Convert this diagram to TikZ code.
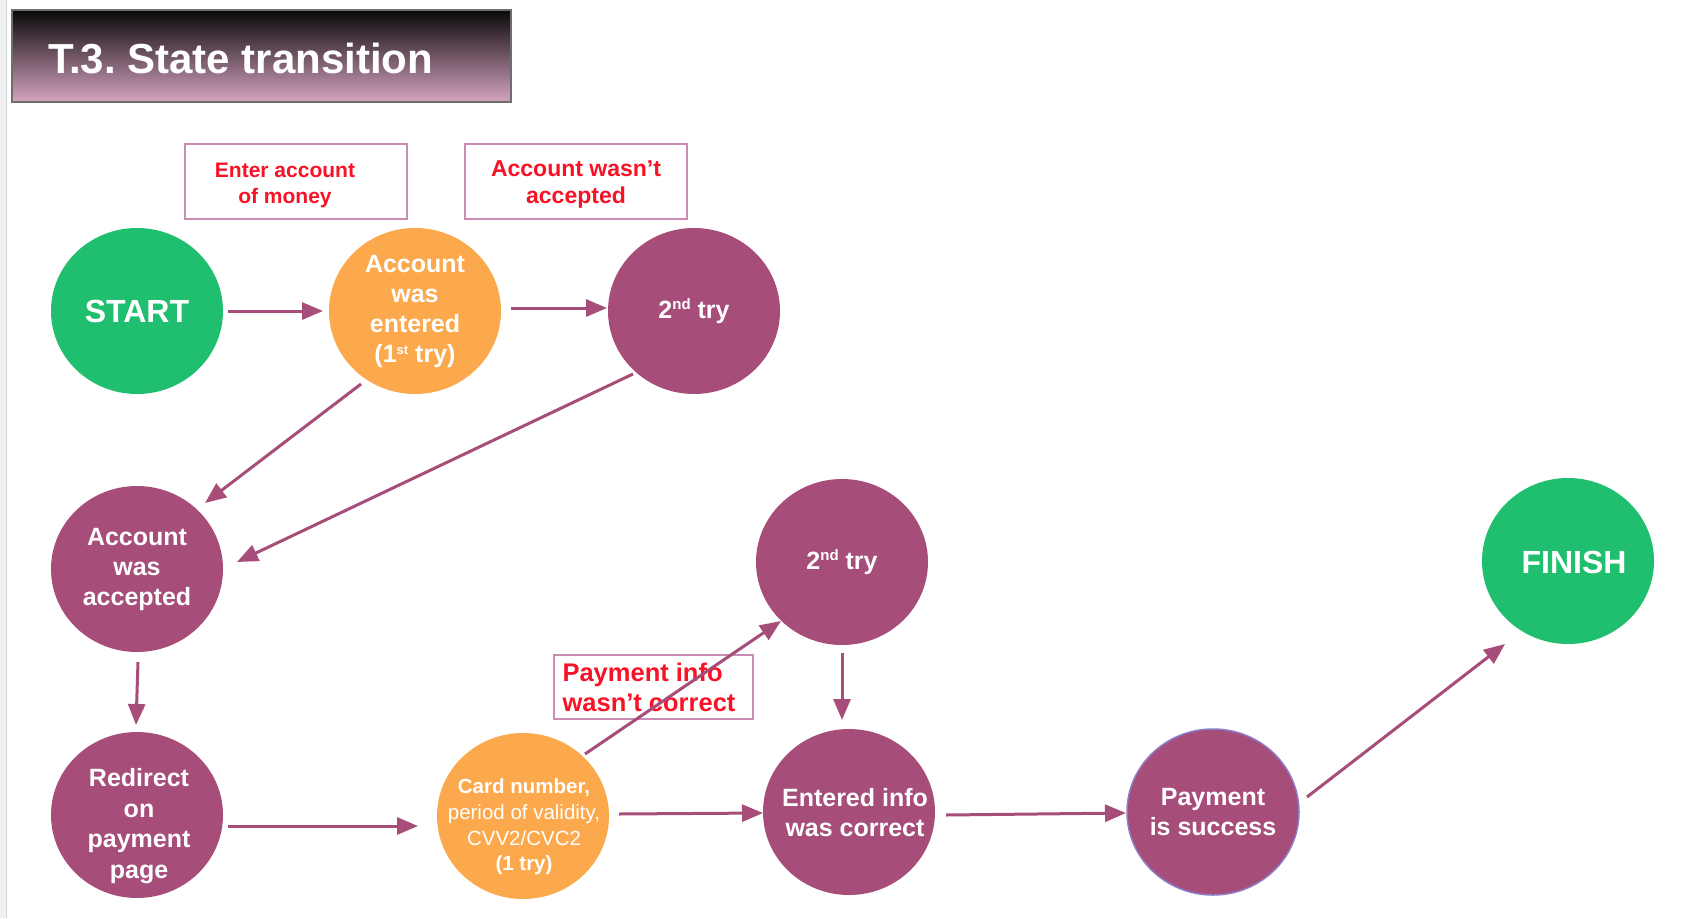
\documentclass[tikz,border=0pt]{standalone}
\usepackage{fontspec}
\setmainfont{Liberation Sans}
\frenchspacing
\usetikzlibrary{arrows.meta,shapes.geometric,calc}
\definecolor{sgreen}{RGB}{32,191,111}
\definecolor{sorange}{RGB}{251,169,76}
\definecolor{smag}{RGB}{166,77,121}
\definecolor{sred}{RGB}{248,18,38}
\definecolor{lblborder}{RGB}{202,140,178}
\definecolor{titleborder}{RGB}{110,110,110}
\definecolor{titletop}{RGB}{10,8,10}
\definecolor{titlebot}{RGB}{214,164,192}
\definecolor{stripfill}{RGB}{240,241,243}
\definecolor{stripline}{RGB}{212,212,214}
\definecolor{payborder}{RGB}{140,125,200}
\newcommand{\supx}[1]{\raisebox{9pt}{\fontsize{15}{15}\selectfont #1}}
\newcommand{\supy}[1]{\raisebox{7.5pt}{\fontsize{13}{13}\selectfont #1}}
\tikzset{
  statenode/.style={ellipse, minimum width=172pt, minimum height=166pt, inner sep=-25pt,
    text=white, align=center, font=\fontsize{25}{30}\selectfont\bfseries},
  greennode/.style={statenode, fill=sgreen, font=\fontsize{32}{38}\selectfont\bfseries},
  orangenode/.style={statenode, fill=sorange},
  magnode/.style={statenode, fill=smag},
  statetext/.style={text=white, align=center, inner sep=0pt, font=\fontsize{25}{30}\selectfont\bfseries},
  lblbox/.style={draw=lblborder, line width=1.5pt, fill=white, inner sep=0pt},
  lbltext/.style={text=sred, align=center, inner sep=0pt, font=\bfseries},
  titlebox/.style={draw=titleborder, line width=1.5pt, top color=titletop, bottom color=titlebot,
    minimum width=499pt, minimum height=92pt, inner sep=0pt},
  conn/.style={draw=smag, line width=3pt, -{Triangle[length=21pt,width=17pt]}}
}
\begin{document}
\begin{tikzpicture}[x=1pt,y=-1pt]
\useasboundingbox (0,0) rectangle (1688,918);
\fill[white] (0,0) rectangle (1688,918);
\fill[stripfill] (0,0) rectangle (6,918);
\draw[stripline, line width=1pt] (6.5,0) -- (6.5,918);

% title
\node[titlebox] (title) at (261.5,56) {};
\node[anchor=base west, text=white, inner sep=0pt, font=\fontsize{42}{50}\selectfont\bfseries]
  (titletext) at (48,73) {T.3. State transition};

% label boxes
\node[lblbox, minimum width=222pt, minimum height=75pt] (lbl1) at (296,181.5) {};
\node[lbltext, font=\fontsize{21}{26}\selectfont\bfseries] (lbl1text) at (285,185)
  {Enter account\\of money};
\node[lblbox, minimum width=222pt, minimum height=75pt] (lbl2) at (576,181.5) {};
\node[lbltext, font=\fontsize{23}{27}\selectfont\bfseries] (lbl2text) at (576,184.5)
  {Account wasn’t\\accepted};
\node[lblbox, minimum width=199pt, minimum height=64pt] (lbl3) at (653.5,687) {};
\node[lbltext, align=left, font=\fontsize{25.5}{30}\selectfont\bfseries] (lbl3text) at (649,687)
  {Payment info\\wasn’t correct};

% states
\node[greennode] (start) at (137,311) {START};
\node[orangenode] (entered) at (415,311) {Account\\was\\entered\\(1\supy{st} try)};
\node[magnode] (try1) at (694,311) {2\supx{nd} try};
\node[magnode] (accepted) at (137,569) {Account\\was\\accepted};
\node[magnode] (redirect) at (137,815) {};
\node[statetext, font=\fontsize{25}{30.5}\selectfont\bfseries] (redirecttext) at (139,826)
  {Redirect\\on\\payment\\page};
\node[orangenode] (card) at (523,816) {};
\node[statetext, font=\fontsize{20.5}{25.7}\selectfont] (cardtext) at (524,827)
  {\textbf{Card number,}\\period of validity,\\CVV2/CVC2\\\textbf{(1 try)}};
\node[magnode] (try2) at (842,562) {2\supx{nd} try};
\node[magnode] (info) at (849,812) {};
\node[statetext] (infotext) at (855,813) {Entered info\\was correct};
\node[magnode, draw=payborder, line width=1.5pt] (pay) at (1213,812) {Payment\\is success};
\node[greennode] (finish) at (1568,561) {};
\node[statetext, font=\fontsize{32}{38}\selectfont\bfseries] (finishtext) at (1574,562) {FINISH};

% connectors
\draw[conn] ($(start)+(91,0)$) -- ($(entered)+(-92,0)$);
\draw[conn] ($(entered)+(96,-3)$) -- ($(try1)+(-87,-3)$);
\draw[conn] ($(entered)+(-54,73)$) -- ($(accepted)+(68,-66)$);
\draw[conn] ($(try1)+(-61,63)$) -- ($(accepted)+(100,-7)$);
\draw[conn] ($(accepted)+(1,93)$) -- ($(redirect)+(-1,-90)$);
\draw[conn] ($(redirect)+(91,11)$) -- ($(card)+(-105,10)$);
\draw[conn] ($(card)+(62,-62)$) -- ($(try2)+(-61,59)$);
\draw[conn] ($(try2)+(0,91)$) -- ($(info)+(-7,-92)$);
\draw[conn] ($(card)+(96,-2)$) -- ($(info)+(-86,1)$);
\draw[conn] ($(info)+(97,3)$) -- ($(pay)+(-87,1)$);
\draw[conn] ($(pay)+(94,-15)$) -- ($(finish)+(-63,83)$);
\end{tikzpicture}
\end{document}
